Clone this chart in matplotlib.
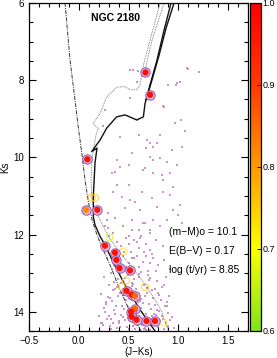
import numpy as np
import matplotlib
matplotlib.use("Agg")
import matplotlib.pyplot as plt
from matplotlib.colors import LinearSegmentedColormap, Normalize
from matplotlib.ticker import MultipleLocator
import matplotlib.cm as cm

plt.rcParams['font.family'] = ['Liberation Sans', 'DejaVu Sans']

# ---------------- data ----------------
# field stars (J-Ks, Ks)
field_x = [0.595, 0.582, 1.095, 1.21, 0.984, 0.85, 1.02, 0.54, 1.085, 0.894, 0.98, 0.857, 1.03, 0.967,
           1.068, 0.6, 0.817, 0.683, 0.716, 0.75, 0.676, 0.934, 0.743, 0.53, 0.666, 0.834, 0.75, 0.643,
           0.5, 0.515, 0.515, 0.264, 0.38, 0.33, 0.415,
           0.364, 0.5, 0.633, 0.432, 0.515, 0.565, 0.347, 0.465, 0.364, 0.616, 0.733, 0.532,
           0.666, 0.448, 0.6, 0.716, 0.347, 0.5, 0.264, 0.297,
           0.783, 1.035, 0.985, 0.917, 0.85, 0.917, 1.018, 1.0, 0.783, 0.75, 0.65, 0.532, 0.38,
           0.28, 0.297, 0.247, 0.415, 0.58, 0.716, 0.817, 0.884, 0.85, 0.95, 0.95, 1.035, 0.884,
           0.817, 0.716,
           0.30, 0.34, 0.38, 0.42, 0.47, 0.52, 0.55, 0.60, 0.63, 0.68, 0.72, 0.78, 0.85, 0.33, 0.45,
           0.58, 0.66, 0.74, 0.50, 0.62,
           0.28, 0.33, 0.38, 0.44, 0.50, 0.55, 0.60, 0.65, 0.70, 0.75, 0.80, 0.86, 0.92, 0.40, 0.47,
           0.58, 0.63, 0.72, 0.78, 0.53, 0.35, 0.68,
           0.25, 0.30, 0.34, 0.39, 0.44, 0.49, 0.53, 0.57, 0.61, 0.66, 0.70, 0.74, 0.79, 0.84, 0.88,
           0.32, 0.42, 0.50, 0.60, 0.69, 0.77, 0.86, 0.55, 0.46, 0.38,
           0.22, 0.27, 0.31, 0.35, 0.39, 0.43, 0.47, 0.51, 0.55, 0.59, 0.63, 0.67, 0.71, 0.75, 0.79,
           0.83, 0.87, 0.91, 0.25, 0.33, 0.41, 0.49, 0.57, 0.65, 0.73, 0.81, 0.89, 0.29, 0.37, 0.45,
           0.53, 0.61, 0.69, 0.77,
           0.20, 0.24, 0.28, 0.32, 0.36, 0.40, 0.44, 0.48, 0.52, 0.56, 0.60, 0.64, 0.68, 0.72, 0.76,
           0.80, 0.84, 0.88, 0.92, 0.96, 0.22, 0.30, 0.38, 0.46, 0.54, 0.62, 0.70, 0.78, 0.86, 0.94,
           0.26, 0.34, 0.42, 0.50, 0.58, 0.66, 0.74, 0.82, 0.90,
           0.35, 0.44, 0.53, 0.62, 0.71, 0.80, 0.89, 0.31, 0.40, 0.49, 0.58, 0.67, 0.76, 0.85,
           0.27, 0.36, 0.45, 0.54, 0.63, 0.72, 0.81, 0.90, 0.23, 0.32, 0.41, 0.50, 0.59, 0.68]
field_k = [7.75, 8.04, 7.71, 7.80, 8.08, 8.67, 8.04, 7.74, 7.69, 8.12, 8.12, 8.69, 9.03, 9.10,
           9.33, 9.42, 9.42, 9.55, 9.63, 9.74, 9.76, 9.81, 10.07, 9.89, 10.28, 10.46, 10.41, 10.33,
           10.20, 7.74, 8.46, 8.77, 10.07, 10.41, 10.24,
           10.37, 10.71, 10.89, 11.02, 11.10, 11.15, 10.89, 11.32, 11.58, 11.36, 11.06, 11.62,
           11.71, 11.79, 11.88, 11.97, 11.97, 12.05, 11.79, 11.45,
           9.63, 9.72, 10.20, 10.41, 10.89, 10.97, 11.23, 11.49, 11.28, 11.62, 11.71, 11.88, 10.71,
           11.62, 11.84, 9.20, 9.46, 9.03, 9.98, 10.02, 10.11, 10.59, 10.76, 11.36, 11.71, 11.62,
           11.79, 11.88,
           12.05, 12.40, 12.20, 12.30, 12.10, 12.45, 12.15, 12.35, 12.05, 12.25, 12.40, 12.15, 12.30,
           12.50, 12.45, 12.20, 12.45, 12.50, 12.25, 12.10,
           12.60, 12.90, 12.70, 12.55, 12.75, 12.60, 12.85, 12.70, 12.95, 12.60, 12.80, 12.65, 12.90,
           12.95, 12.85, 12.55, 12.98, 12.75, 12.95, 12.62, 12.80, 12.55,
           13.10, 13.30, 13.45, 13.15, 13.40, 13.05, 13.25, 13.40, 13.10, 13.30, 13.05, 13.45, 13.20,
           13.35, 13.10, 13.00, 13.25, 13.48, 13.02, 13.38, 13.42, 13.30, 13.15, 13.12, 13.35,
           13.55, 13.80, 13.65, 13.95, 13.60, 13.85, 13.70, 13.98, 13.55, 13.75, 13.90, 13.60, 13.80,
           13.65, 13.95, 13.70, 13.85, 13.60, 13.90, 13.72, 13.52, 13.88, 13.62, 13.78, 13.92, 13.58,
           13.75, 13.62, 13.85, 13.58, 13.68, 13.96, 13.52, 13.82,
           14.10, 14.35, 14.20, 14.45, 14.05, 14.30, 14.15, 14.40, 14.25, 14.45, 14.10, 14.35, 14.05,
           14.48, 14.20, 14.40, 14.10, 14.30, 14.22, 14.42, 14.28, 14.12, 14.42, 14.22, 14.38, 14.18,
           14.32, 14.08, 14.45, 14.15, 14.02, 14.28, 14.08, 14.46, 14.32, 14.44, 14.12, 14.25, 14.36,
           13.24, 13.56, 13.33, 13.72, 13.18, 13.52, 13.86, 14.38, 14.24, 14.16, 14.34, 14.42, 14.06,
           14.20, 13.76, 13.42, 13.93, 13.28, 13.66, 13.12, 13.98, 14.04, 14.30, 14.18, 14.40, 14.22,
           14.34, 14.48]

# member stars with membership probability
mem_x = [0.67, 0.716, 0.086, 0.073, 0.186, 0.264, 0.364, 0.378, 0.41, 0.515, 0.48, 0.53, 0.565,
         0.565, 0.525, 0.53, 0.58, 0.68, 0.766]
mem_k = [7.80, 8.38, 10.05, 11.36, 11.36, 12.29, 12.47, 12.66, 12.87, 12.93, 13.46, 13.56, 13.59,
         13.93, 14.00, 14.13, 14.21, 14.24, 14.24]
mem_p = [0.98, 0.98, 0.97, 0.82, 0.97, 0.97, 0.98, 0.98, 0.98, 0.97, 0.97, 0.96, 0.85,
         0.86, 0.97, 0.98, 0.97, 0.97, 0.97]

# low-probability stars (open circles)
low_x = [0.13, 0.163, 0.307, 0.448, 0.475, 0.43, 0.666, 0.85]
low_k = [11.05, 11.05, 12.07, 12.44, 13.19, 13.35, 13.36, 14.28]
low_p = [0.78, 0.76, 0.66, 0.74, 0.75, 0.76, 0.75, 0.72]

# isochrone (single stars)
iso_x = [0.766, 0.616, 0.465, 0.344, 0.264, 0.214, 0.163, 0.146, 0.146, 0.163, 0.183, 0.130,
         0.163, 0.214, 0.281, 0.381, 0.465, 0.582, 0.649, 0.666, 0.716, 0.786, 0.857, 0.927]
iso_k = [14.50, 13.95, 13.31, 12.71, 12.27, 12.05, 11.75, 11.54, 11.02, 10.15, 9.76, 9.85,
         9.73, 9.55, 9.24, 8.95, 8.90, 9.03, 8.95, 8.60, 8.12, 7.48, 6.70, 6.00]
agb_x = [0.676, 0.736, 0.807, 0.877, 0.957]
agb_k = [8.51, 7.99, 7.35, 6.65, 6.00]

# isochrone (binary sequence)
bin_x = [0.90, 0.867, 0.834, 0.766, 0.683, 0.515, 0.394, 0.297, 0.231, 0.163, 0.130, 0.123,
         0.133, 0.146, 0.173, 0.196, 0.143, 0.183, 0.214, 0.281, 0.381, 0.465, 0.515, 0.582,
         0.616, 0.649, 0.716, 0.817]
bin_k = [14.50, 14.26, 14.00, 13.69, 13.35, 12.79, 12.40, 12.05, 11.71, 11.36, 11.02, 10.59,
         10.07, 9.81, 9.42, 9.24, 9.13, 8.98, 8.86, 8.43, 8.18, 8.17, 8.25, 8.25,
         8.12, 7.61, 6.96, 6.00]
bagb_x = [0.666, 0.736, 0.857]
bagb_k = [7.74, 6.96, 6.00]

# blue edge (dash-dot)
edge_x = [-0.138, -0.088, -0.038, -0.008, 0.033, 0.063, 0.093, 0.133, 0.183, 0.224, 0.314,
          0.415, 0.515, 0.626]
edge_k = [6.00, 7.48, 8.51, 9.16, 9.94, 10.59, 11.10, 11.62, 12.01, 12.27, 12.79, 13.44,
          14.00, 14.50]

title_txt = "NGC 2180"
info_txt = ["(m\u2212M)o = 10.1", "E(B\u2212V) = 0.17", "log (t/yr) = 8.85"]
cb_ticks = [0.6, 0.7, 0.8, 0.9, 1.0]

# ---------------- figure ----------------
W, H = 277, 358
fig = plt.figure(figsize=(W / 100, H / 100), dpi=100)
ax = fig.add_axes([29 / W, 27 / H, 219 / W, 328 / H])

cmap = LinearSegmentedColormap.from_list(
    "prob", [(0.0, "#7fe31c"), (0.25, "#ffff00"), (0.5, "#ff9a00"), (0.75, "#ff3a00"), (1.0, "#ff0000")])
norm = Normalize(0.6, 1.0)

ax.scatter(field_x, field_k, s=1.2, c="#c07ac4", marker="s", linewidths=0, alpha=0.8, zorder=1)

ax.plot(edge_x, edge_k, color="#333333", lw=0.7, ls=(0, (4, 1.2, 1, 1.2)), zorder=2)
ax.plot(bin_x, bin_k, color="#666666", lw=0.6, ls=(0, (1, 1)), zorder=2)
ax.plot(bagb_x, bagb_k, color="#666666", lw=0.6, ls=(0, (1, 1)), zorder=2)
ax.plot(iso_x, iso_k, color="#111111", lw=1.0, zorder=3)
ax.plot(agb_x, agb_k, color="#111111", lw=1.0, zorder=3)

ax.scatter(low_x, low_k, s=26, facecolors="none", edgecolors=cmap(norm(np.array(low_p))),
           linewidths=0.8, alpha=0.7, zorder=4)
ax.scatter(mem_x, mem_k, s=46, facecolors="#dcb4e4", edgecolors="#9a5aa8", linewidths=0.7, zorder=5)
ax.scatter(mem_x, mem_k, s=20, c=mem_p, cmap=cmap, norm=norm, linewidths=0, zorder=6)

ax.set_xlim(-0.5, 1.7)
ax.set_ylim(14.5, 6.0)
ax.xaxis.set_major_locator(MultipleLocator(0.5))
ax.xaxis.set_minor_locator(MultipleLocator(0.1))
ax.yaxis.set_major_locator(MultipleLocator(2))
ax.yaxis.set_minor_locator(MultipleLocator(0.5))
ax.tick_params(which="both", direction="in", top=True, right=True, labelsize=7, width=0.8)
ax.tick_params(which="major", length=5)
ax.tick_params(which="minor", length=3)
ax.xaxis.set_major_formatter(matplotlib.ticker.FuncFormatter(lambda v, p: f"{v:.1f}".replace("-", "\u2212")))
ax.yaxis.set_major_formatter(matplotlib.ticker.FuncFormatter(lambda v, p: f"{v:.0f}"))
for s in ax.spines.values():
    s.set_linewidth(0.9)

ax.set_xlabel("(J\u2212Ks)", fontsize=7, labelpad=1)
ax.set_ylabel("Ks", fontsize=7, labelpad=2)

ax.text(0.364, 6.38, title_txt, fontsize=7.5, fontweight="bold", ha="center", va="center")
for t, k in zip(info_txt, [11.93, 12.42, 12.92]):
    ax.text(0.905, k, t, fontsize=7.5, ha="left", va="center")

cax = fig.add_axes([250 / W, 27 / H, 11 / W, 328 / H])
sm = cm.ScalarMappable(norm=norm, cmap=cmap)
cb = fig.colorbar(sm, cax=cax, ticks=cb_ticks)
cb.ax.tick_params(labelsize=6.5, direction="in", length=3, width=0.7, pad=1)
cb.outline.set_linewidth(0.9)
cb.ax.set_yticklabels([f"{v:.1f}" for v in cb_ticks])

fig.savefig("out.png", dpi=100)
